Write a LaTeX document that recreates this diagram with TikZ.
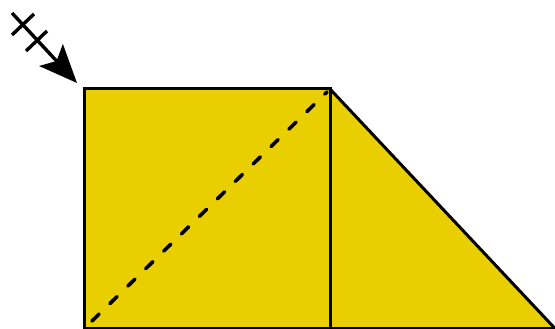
\documentclass[tikz,border=0pt]{standalone}
\usetikzlibrary{arrows.meta}
\definecolor{fillyellow}{RGB}{234,207,0}
\tikzset{
  edge/.style={line width=3pt, line join=miter},
  diag/.style={line width=3.6pt, dash pattern=on 10pt off 15pt, line cap=round},
  shaft/.style={line width=3.4pt, -{Stealth[length=38pt,width=32pt,inset=8pt]}},
  tick/.style={line width=3.4pt}
}
\begin{document}
\begin{tikzpicture}[x=1pt,y=1pt]
\useasboundingbox (0,0) rectangle (555,329);
% corners (y = 329 - pixel y)
\coordinate (BL) at (84,0.5);
\coordinate (TL) at (84,240);
\coordinate (TR) at (330,240);
\coordinate (BR) at (330,0.5);
\coordinate (TIP) at (555,0.5);
% triangle
\fill[fillyellow] (TR) -- (TIP) -- (BR) -- cycle;
\draw[edge] (TR) -- (TIP);
% square
\draw[edge, fill=fillyellow] (BL) rectangle (TR);
\draw[edge] (BR) -- (TIP);
% dashed diagonal
\draw[diag] (92,8) -- (327,237);
% arrow
\coordinate (A0) at (12,316);
\coordinate (A1) at (77,246);
\draw[shaft] (A0) -- (A1);
\draw[tick] (12,294) -- (34,315);
\draw[tick] (26,278) -- (47,298);
\end{tikzpicture}
\end{document}
